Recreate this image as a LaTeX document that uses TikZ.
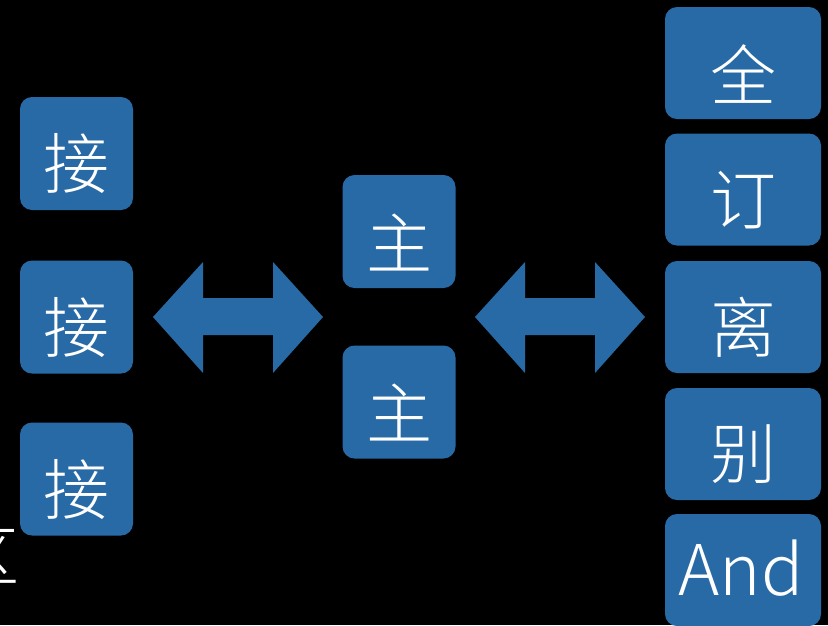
\documentclass[tikz,border=0pt]{standalone}
\usepackage{fontspec}
\newfontfamily\cjk{Noto Sans CJK SC Light}
\definecolor{boxblue}{RGB}{40,106,166}
\begin{document}
\begin{tikzpicture}[x=1pt,y=-1pt,
  box/.style={fill=boxblue, rounded corners=12pt, minimum width=113pt, minimum height=113pt, inner sep=0pt},
  wbox/.style={box, minimum width=156pt, minimum height=112pt},
  lbl/.style={text=white, font=\cjk\fontsize{66}{66}\selectfont, inner sep=0pt},
  arrowshape/.style={fill=boxblue}]
\useasboundingbox (0,0) rectangle (828,625);
\clip (0,0) rectangle (828,625);
\fill[black] (0,0) rectangle (828,625);
% left column
\node[box] (l1) at (76.5,153.5) {};
\node[box] (l2) at (76.5,317) {};
\node[box] (l3) at (76.5,479) {};
\node[lbl] (tl1) at (76.5,164) {接};
\node[lbl] (tl2) at (76.5,327.5) {接};
\node[lbl] (tl3) at (76.5,489.5) {接};
% partial character at left edge
\node[lbl] (tq) at (-13,556) {区};
% middle column
\node[box] (m1) at (399,231.5) {};
\node[box] (m2) at (399,402) {};
\node[lbl] (tm1) at (399,242) {主};
\node[lbl] (tm2) at (399,412.5) {主};
% right column
\node[wbox] (r1) at (743,63) {};
\node[wbox] (r2) at (743,189.5) {};
\node[wbox] (r3) at (743,317) {};
\node[wbox] (r4) at (743,444) {};
\node[wbox] (r5) at (743,570) {};
\node[lbl] (tr1) at (743,74.5) {全};
\node[lbl] (tr2) at (743,200) {订};
\node[lbl] (tr3) at (743,327.5) {离};
\node[lbl] (tr4) at (743,454.5) {别};
\node[lbl, font=\cjk\fontsize{70}{70}\selectfont] (tr5) at (741,568) {And};
% double arrows
\foreach \dx in {0,322} {
  \fill[arrowshape] (153+\dx,317) -- (203+\dx,262) -- (203+\dx,298) -- (273+\dx,298)
    -- (273+\dx,262) -- (323+\dx,317) -- (273+\dx,373) -- (273+\dx,335)
    -- (203+\dx,335) -- (203+\dx,373) -- cycle;
}
\end{tikzpicture}
\end{document}
